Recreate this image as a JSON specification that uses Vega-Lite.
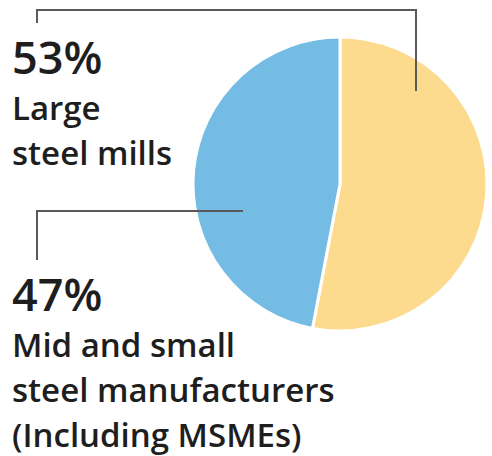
{
  "$schema": "https://vega.github.io/schema/vega-lite/v6.json",
  "width": 492,
  "height": 456,
  "padding": 0,
  "autosize": "none",
  "background": "white",
  "config": {"view": {"stroke": null}},
  "data": {
    "values": [
      {"category": "Large steel mills", "share": 0.53, "label": "Large\nsteel mills"},
      {"category": "Mid and small steel manufacturers (Including MSMEs)", "share": 0.47, "label": "Mid and small\nsteel manufacturers\n(Including MSMEs)"}
    ]
  },
  "layer": [
    {
      "mark": {"type": "arc", "x": 340, "y": 184, "outerRadius": 147, "stroke": "white", "strokeWidth": 3},
      "encoding": {
        "theta": {"field": "share", "type": "quantitative", "stack": true},
        "order": {"field": "share", "sort": "descending"},
        "color": {"field": "category", "type": "nominal", "scale": {"domain": ["Large steel mills", "Mid and small steel manufacturers (Including MSMEs)"], "range": ["#fcdb8e", "#74bce3"]}, "legend": null}
      }
    },
    {
      "mark": {"type": "rule", "stroke": "#5a5a5a", "strokeWidth": 2},
      "encoding": {"x": {"value": 37}, "x2": {"value": 416}, "y": {"value": 10}, "y2": {"value": 10}}
    },
    {
      "mark": {"type": "rule", "stroke": "#5a5a5a", "strokeWidth": 2},
      "encoding": {"x": {"value": 37}, "x2": {"value": 37}, "y": {"value": 9}, "y2": {"value": 23}}
    },
    {
      "mark": {"type": "rule", "stroke": "#5a5a5a", "strokeWidth": 2},
      "encoding": {"x": {"value": 416}, "x2": {"value": 416}, "y": {"value": 9}, "y2": {"value": 91}}
    },
    {
      "mark": {"type": "rule", "stroke": "#5a5a5a", "strokeWidth": 2},
      "encoding": {"x": {"value": 37}, "x2": {"value": 243}, "y": {"value": 211}, "y2": {"value": 211}}
    },
    {
      "mark": {"type": "rule", "stroke": "#5a5a5a", "strokeWidth": 2},
      "encoding": {"x": {"value": 37}, "x2": {"value": 37}, "y": {"value": 210}, "y2": {"value": 260}}
    },
    {
      "mark": {"type": "text", "x": 12, "align": "left", "baseline": "alphabetic", "font": "Open Sans", "fontSize": 45, "fontWeight": 600, "color": "#1e1e1e"},
      "encoding": {
        "y": {"field": "category", "type": "nominal", "scale": {"type": "point", "domain": ["Large steel mills", "Mid and small steel manufacturers (Including MSMEs)"], "range": [74, 311], "padding": 0}, "axis": null},
        "text": {"field": "share", "type": "quantitative", "format": ".0%"}
      }
    },
    {
      "mark": {"type": "text", "x": 12, "dy": 46, "align": "left", "baseline": "alphabetic", "font": "Open Sans", "fontSize": 33, "fontWeight": 600, "lineHeight": 45, "lineBreak": "\n", "color": "#1e1e1e"},
      "encoding": {
        "y": {"field": "category", "type": "nominal", "axis": null},
        "text": {"field": "label", "type": "nominal"}
      }
    }
  ]
}
